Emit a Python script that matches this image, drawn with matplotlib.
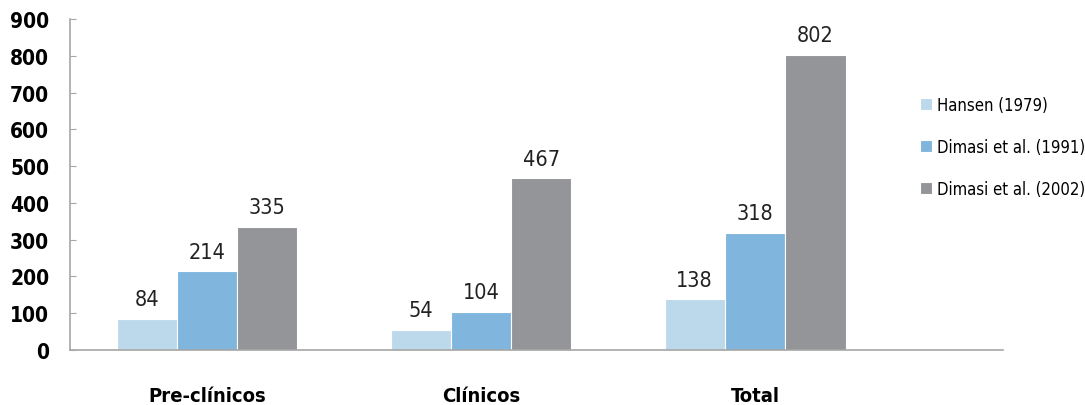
import matplotlib
matplotlib.use('Agg')
import matplotlib.pyplot as plt
import numpy as np

# ----- Données -----
categories = ['Pre-clínicos', 'Clínicos', 'Total']
series = ['Hansen (1979)', 'Dimasi et al. (1991)', 'Dimasi et al. (2002)']
hansen = [84, 54, 138]
dimasi_1991 = [214, 104, 318]
dimasi_2002 = [335, 467, 802]
y_ticks = [0, 100, 200, 300, 400, 500, 600, 700, 800, 900]

colors = ['#bcd9ec', '#80b6dd', '#939598']
fam = ['DejaVu Sans']
st = 'condensed'

fig = plt.figure(figsize=(10.85, 4.06), dpi=100)
ax = fig.add_axes([0.0645, 0.1355, 0.86, 0.815])

x = np.arange(len(categories))
w = 0.22
for i, (vals, name) in enumerate(zip([hansen, dimasi_1991, dimasi_2002], series)):
    pos = x + (i - 1) * w
    bars = ax.bar(pos, vals, width=w, color=colors[i], label=name, edgecolor='white', linewidth=0.8)
    for b, v in zip(bars, vals):
        ax.annotate(str(v), (b.get_x() + b.get_width() / 2, v), xytext=(0, 7),
                    textcoords='offset points', ha='center', va='bottom',
                    fontsize=15.5, family=fam, fontstretch=st, color='#222222')

ax.set_xlim(-0.5, 2.905)
ax.set_ylim(0, 900)
ax.set_yticks(y_ticks)
ax.set_yticklabels([str(t) for t in y_ticks], fontsize=15, fontweight='bold',
                   family=fam, fontstretch=st)
ax.set_xticks(x)
ax.set_xticklabels(categories, fontsize=14.5, fontweight='bold', family=fam, fontstretch=st)

for s in ['top', 'right']:
    ax.spines[s].set_visible(False)
for s in ['left', 'bottom']:
    ax.spines[s].set_color('#a6a6a6')
    ax.spines[s].set_linewidth(1.2)
ax.tick_params(axis='y', direction='in', length=4, color='#a6a6a6', pad=15)
ax.tick_params(axis='x', length=0, pad=26)

fig.legend(loc='upper left', bbox_to_anchor=(0.842, 0.778), frameon=False,
           prop={'family': fam, 'stretch': st, 'size': 12}, handlelength=0.7,
           handleheight=0.7, handletextpad=0.3, labelspacing=1.45, borderaxespad=0)

fig.savefig('out.png', dpi=100)
